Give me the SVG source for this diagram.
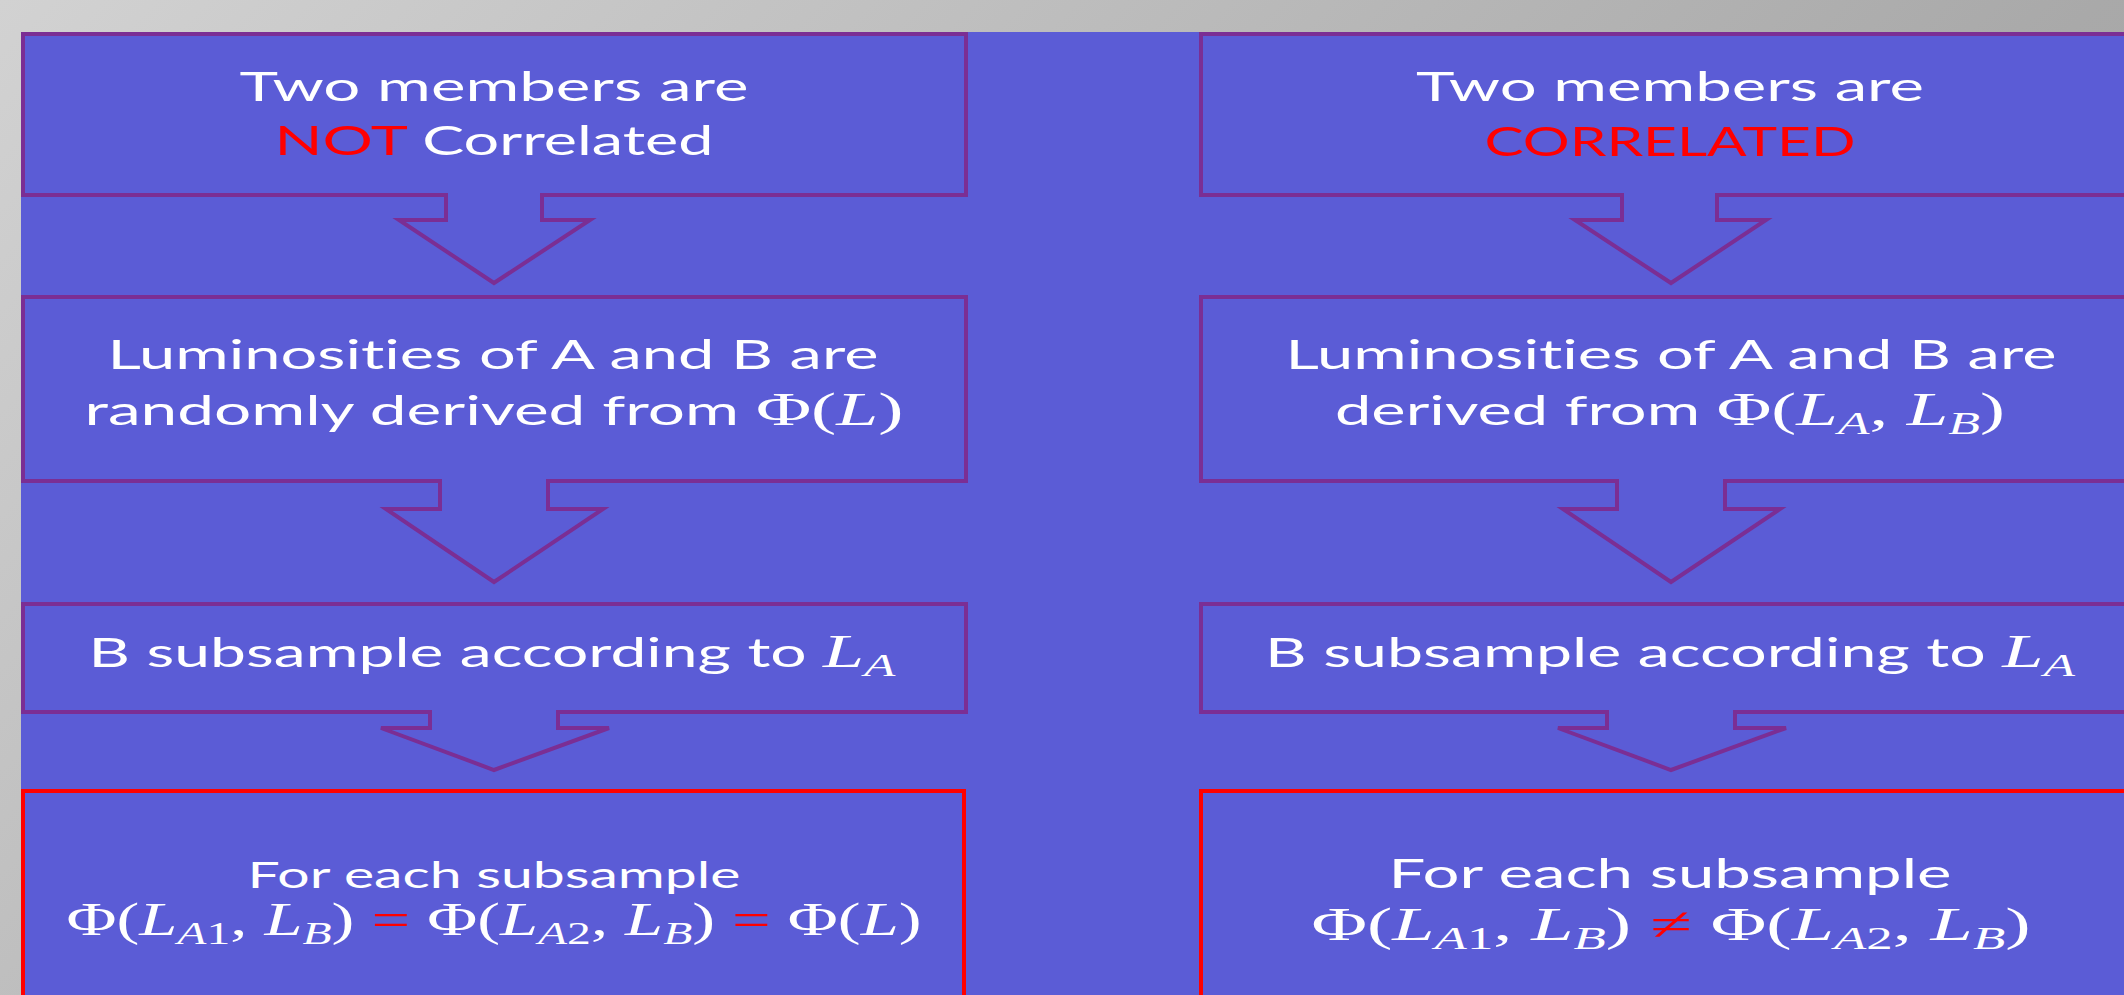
<svg xmlns="http://www.w3.org/2000/svg" width="2124" height="995" viewBox="0 0 2124 995">
<defs>
<linearGradient id="bg" gradientUnits="userSpaceOnUse" x1="0" y1="0" x2="1500" y2="1500">
<stop offset="0" stop-color="#D2D2D2"/>
<stop offset="0.7" stop-color="#A9A9A9"/>
<stop offset="1" stop-color="#A0A0A0"/>
</linearGradient>
</defs>
<style>
.box{fill:#5B5CD6;stroke:#7B2E94;stroke-width:4;stroke-linejoin:miter}
.red{fill:#5B5CD6;stroke:#FF0000;stroke-width:4}
.arrow{fill:#5B5CD6;stroke:#7B2E94;stroke-width:4;stroke-linejoin:miter}
.t{font-family:Lato,"Open Sans",sans-serif;font-size:40px;fill:#FFFFFF;text-anchor:middle;font-variant-ligatures:none}
.s{font-size:37px}
.m{font-family:"Liberation Serif","DejaVu Serif",serif;font-size:46px}
.i{font-style:italic}
.sub{font-size:32px}
.r{fill:#FF0000}
</style>
<rect x="0" y="0" width="2124" height="995" fill="url(#bg)"/>
<rect x="21" y="32" width="2103" height="963" fill="#5B5CD6"/>

<g id="n1">
<rect class="box" x="23" y="34" width="943" height="161"/>
<text class="t" x="494" y="101" textLength="509" lengthAdjust="spacingAndGlyphs">Two members are</text>
<text class="t" x="494" y="155" textLength="439" lengthAdjust="spacingAndGlyphs"><tspan class="r">NOT</tspan> Correlated</text>
</g>
<g id="n2">
<rect class="box" x="23" y="297" width="943" height="184"/>
<text class="t" x="493" y="369" textLength="771" lengthAdjust="spacingAndGlyphs">Luminosities of A and B are</text>
<text class="t" x="494" y="425" textLength="819" lengthAdjust="spacingAndGlyphs">randomly derived from <tspan class="m">Φ(</tspan><tspan class="m i">L</tspan><tspan class="m">)</tspan></text>
</g>
<g id="n3">
<rect class="box" x="23" y="604" width="943" height="108"/>
<text class="t" x="492" y="667" textLength="807" lengthAdjust="spacingAndGlyphs">B subsample according to <tspan class="m i">L</tspan><tspan class="m i sub" dy="9">A</tspan></text>
</g>
<g id="n4">
<rect class="red" x="23" y="791" width="941" height="240"/>
<text class="t s" x="494" y="888" textLength="493" lengthAdjust="spacingAndGlyphs">For each subsample</text>
<text class="t m" x="494" y="935" textLength="855" lengthAdjust="spacingAndGlyphs">Φ(<tspan class="i">L</tspan><tspan class="i sub" dy="9">A</tspan><tspan class="sub">1</tspan><tspan dy="-9">, </tspan><tspan class="i">L</tspan><tspan class="i sub" dy="9">B</tspan><tspan dy="-9">) </tspan><tspan class="r">=</tspan> Φ(<tspan class="i">L</tspan><tspan class="i sub" dy="9">A</tspan><tspan class="sub">2</tspan><tspan dy="-9">, </tspan><tspan class="i">L</tspan><tspan class="i sub" dy="9">B</tspan><tspan dy="-9">) </tspan><tspan class="r">=</tspan> Φ(<tspan class="i">L</tspan>)</text>
</g>

<g id="n5">
<rect class="box" x="1201" y="34" width="960" height="161"/>
<text class="t" x="1670" y="101" textLength="508" lengthAdjust="spacingAndGlyphs">Two members are</text>
<text class="t r" x="1670" y="156" textLength="371" lengthAdjust="spacingAndGlyphs">CORRELATED</text>
</g>
<g id="n6">
<rect class="box" x="1201" y="297" width="960" height="184"/>
<text class="t" x="1671" y="369" textLength="771" lengthAdjust="spacingAndGlyphs">Luminosities of A and B are</text>
<text class="t" x="1670" y="425" textLength="670" lengthAdjust="spacingAndGlyphs">derived from <tspan class="m">Φ(</tspan><tspan class="m i">L</tspan><tspan class="m i sub" dy="9">A</tspan><tspan class="m" dy="-9">, </tspan><tspan class="m i">L</tspan><tspan class="m i sub" dy="9">B</tspan><tspan class="m" dy="-9">)</tspan></text>
</g>
<g id="n7">
<rect class="box" x="1201" y="604" width="960" height="108"/>
<text class="t" x="1670" y="667" textLength="810" lengthAdjust="spacingAndGlyphs">B subsample according to <tspan class="m i">L</tspan><tspan class="m i sub" dy="9">A</tspan></text>
</g>
<g id="n8">
<rect class="red" x="1201" y="791" width="960" height="240"/>
<text class="t" x="1670" y="888" textLength="563" lengthAdjust="spacingAndGlyphs">For each subsample</text>
<text class="t m" x="1671" y="940" textLength="719" lengthAdjust="spacingAndGlyphs">Φ(<tspan class="i">L</tspan><tspan class="i sub" dy="9">A</tspan><tspan class="sub">1</tspan><tspan dy="-9">, </tspan><tspan class="i">L</tspan><tspan class="i sub" dy="9">B</tspan><tspan dy="-9">) </tspan><tspan class="r">≠</tspan> Φ(<tspan class="i">L</tspan><tspan class="i sub" dy="9">A</tspan><tspan class="sub">2</tspan><tspan dy="-9">, </tspan><tspan class="i">L</tspan><tspan class="i sub" dy="9">B</tspan><tspan dy="-9">)</tspan></text>
</g>

<g id="connectors">
<path class="arrow" d="M446,193 V220 H399 L494,283 L590,220 H542 V193"/>
<path class="arrow" d="M440,479 V509 H386 L494,582 L603,509 H548 V479"/>
<path class="arrow" d="M430,710 V728 H381 L494,770 L609,728 H558 V710"/>
<path class="arrow" d="M1622,193 V220 H1575 L1671,283 L1766,220 H1717 V193"/>
<path class="arrow" d="M1617,479 V509 H1563 L1671,582 L1780,509 H1725 V479"/>
<path class="arrow" d="M1607,710 V728 H1558 L1671,770 L1786,728 H1735 V710"/>
</g>
</svg>
